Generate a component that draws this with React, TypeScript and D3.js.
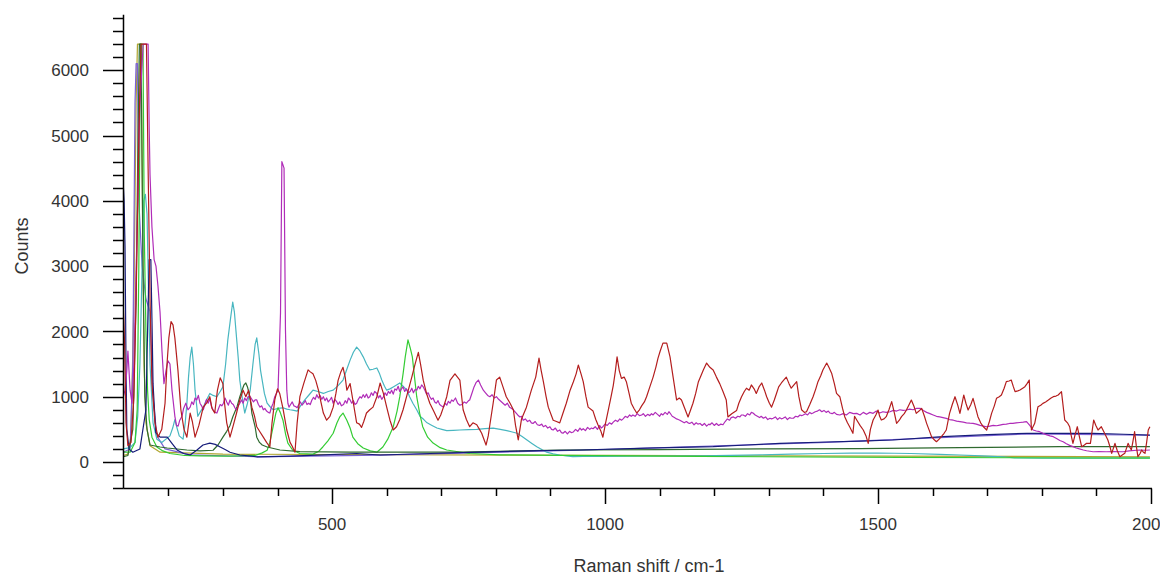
import React from "react";
import * as d3 from "d3";

type Pt = [number, number];

// Raman shift (cm-1), counts
const redSpectrum: Pt[] = [
  [117.5, 2400], [120, 1800], [122.5, 600], [126, 250], [131.7, 300], [137, 1000], [141, 2500], [146, 5000], [150, 6400], [160, 6400],
  [163, 4500], [166.5, 2500], [170, 1200], [175.6, 600], [181, 380], [188, 500], [194, 900], [197.6, 1500], [201, 1900], [205, 2150],
  [208.6, 2100], [212, 1900], [217.7, 1400], [223, 800], [228.7, 500], [234, 380], [240, 750], [244, 620], [249, 380], [256, 560],
  [264, 840], [270, 900], [276, 1000], [280, 820], [285, 750], [290, 1100], [295, 1290], [300, 1200], [303, 900], [307, 600],
  [313, 380], [319, 560], [325, 750], [331, 950], [337, 1100], [342, 1000], [347, 1100], [353, 840], [358, 700], [362, 540],
  [368, 460], [374, 380], [380, 300], [386, 230], [390, 600], [395, 950], [400, 1120], [404, 1050], [410, 820], [417, 490],
  [423, 300], [427, 240], [432, 150], [436, 600], [441, 1000], [448, 1200], [456, 1410], [460, 1380], [465, 1350], [470, 1250],
  [475, 1100], [480, 900], [484, 750], [490, 640], [496, 700], [502, 840], [507, 1050], [511, 1250], [516, 1380], [520, 1450],
  [524, 1300], [527, 1100], [533, 1200], [539, 900], [545, 600], [550, 580], [554, 530], [558, 620], [563, 750], [569, 800],
  [575, 840], [582, 1000], [588, 1210], [594, 1050], [600, 840], [606, 640], [612, 490], [618, 540], [624, 650], [630, 800],
  [638, 1050], [646, 1300], [652, 1500], [658, 1680], [662, 1500], [667, 1250], [673, 1050], [679, 900], [686, 780], [694, 640],
  [699, 720], [704, 840], [710, 1000], [716, 1250], [725, 1350], [734, 1255], [740, 800], [746, 650], [752, 540], [758, 600],
  [765, 570], [770, 500], [774, 440], [782, 260], [786, 400], [789, 570], [795, 900], [801, 1255], [807, 1300], [813, 1150],
  [819, 1000], [826, 900], [832, 800], [836, 560], [841, 340], [847, 660], [856, 840], [865, 1100], [873, 1300], [879, 1590],
  [883, 1400], [887, 1230], [892, 1000], [896, 840], [905, 640], [911, 620], [917, 600], [923, 750], [929, 900], [936, 1100],
  [942, 1230], [947, 1350], [951, 1485], [956, 1350], [960, 1230], [965, 1000], [969, 840], [978, 780], [983, 650], [987, 570],
  [992, 480], [996, 380], [1001, 600], [1006, 800], [1011, 1000], [1015, 1170], [1019, 1400], [1022, 1610], [1026, 1400], [1030, 1280],
  [1035, 1300], [1039, 1230], [1044, 1050], [1048, 900], [1053, 820], [1058, 750], [1063, 800], [1067, 860], [1072, 920], [1076, 1000],
  [1082, 1150], [1088, 1300], [1093, 1450], [1097, 1590], [1101, 1700], [1106, 1820], [1113, 1820], [1119, 1610], [1125, 1280], [1131, 950],
  [1136, 980], [1140, 950], [1146, 820], [1152, 690], [1156, 780], [1161, 900], [1166, 1050], [1171, 1230], [1176, 1330], [1180, 1410],
  [1186, 1515], [1192, 1450], [1198, 1410], [1204, 1300], [1210, 1200], [1216, 1080], [1222, 950], [1225, 690], [1232, 740], [1241, 790],
  [1245, 900], [1250, 1000], [1255, 1080], [1259, 1130], [1264, 1100], [1268, 1180], [1273, 1120], [1277, 1050], [1282, 1150], [1287, 1210],
  [1292, 1100], [1296, 1000], [1301, 900], [1305, 840], [1310, 950], [1314, 1050], [1318, 1150], [1323, 1210], [1328, 1260], [1332, 1300],
  [1337, 1200], [1341, 1130], [1346, 1180], [1351, 1230], [1355, 1000], [1360, 800], [1365, 760], [1369, 770], [1375, 880], [1381, 1000],
  [1386, 1120], [1390, 1230], [1395, 1320], [1399, 1410], [1406, 1515], [1410, 1450], [1415, 1360], [1420, 1200], [1424, 1050], [1430, 1000],
  [1435, 820], [1439, 694], [1444, 600], [1448, 540], [1454, 439], [1457, 700], [1461, 643], [1467, 560], [1473, 490], [1478, 400],
  [1482, 286], [1486, 500], [1491, 643], [1496, 720], [1500, 796], [1503, 700], [1506, 643], [1511, 660], [1515, 694], [1520, 800],
  [1525, 924], [1530, 750], [1534, 592], [1539, 640], [1543, 694], [1548, 740], [1552, 796], [1557, 880], [1561, 949], [1566, 850],
  [1570, 745], [1575, 780], [1580, 822], [1585, 700], [1589, 592], [1594, 480], [1598, 388], [1603, 340], [1607, 311], [1612, 350],
  [1616, 388], [1621, 440], [1625, 490], [1631, 745], [1636, 880], [1641, 1000], [1646, 870], [1650, 745], [1654, 900], [1657, 1026],
  [1661, 900], [1665, 796], [1670, 880], [1674, 975], [1679, 820], [1683, 694], [1688, 600], [1693, 540], [1699, 490], [1704, 620],
  [1708, 745], [1713, 860], [1717, 975], [1722, 1000], [1726, 1026], [1731, 1130], [1735, 1230], [1740, 1240], [1744, 1255], [1748, 1150],
  [1751, 1077], [1756, 1090], [1760, 1102], [1765, 1130], [1769, 1153], [1773, 1200], [1777, 1255], [1781, 490], [1787, 592], [1793, 847],
  [1798, 870], [1802, 898], [1807, 920], [1812, 949], [1817, 980], [1821, 1000], [1826, 1010], [1830, 1026], [1836, 1077], [1842, 643],
  [1847, 600], [1851, 540], [1854, 400], [1857, 286], [1861, 420], [1865, 540], [1869, 380], [1873, 235], [1878, 260], [1882, 286],
  [1889, 286], [1895, 643], [1899, 560], [1903, 490], [1909, 540], [1915, 439], [1921, 337], [1925, 230], [1928, 133], [1934, 286],
  [1938, 180], [1943, 82], [1948, 110], [1952, 133], [1958, 286], [1961, 230], [1964, 184], [1967, 320], [1970, 464], [1973, 250],
  [1976, 82], [1980, 130], [1983, 184], [1986, 150], [1989, 133], [1992, 300], [1995, 490], [1998, 540],
];

const magentaSpectrum: Pt[] = [
  [117.5, 1000], [120.7, 1100], [124, 1400], [126, 1700], [128, 1400], [130, 1100], [133.5, 900], [137, 1500], [142.6, 3500], [148, 5500],
  [154, 6400], [163, 6400], [165, 5100], [166.5, 4400], [170, 3600], [174, 3100], [177.4, 3000], [181, 2700], [184.8, 2300], [188.4, 1700],
  [192, 1200], [195.8, 1400], [199.4, 1550], [203, 1500], [206.7, 1100], [212, 700], [215, 560], [218, 550], [221, 640], [225, 700],
  [228, 820], [232, 900], [236, 800], [240, 840], [243, 920], [246, 880], [249, 980], [252, 950], [255, 1020], [258, 900],
  [261, 860], [264, 800], [267, 880], [270, 960], [273, 900], [276, 970], [279, 850], [282, 800], [286, 760], [289, 750],
  [292, 820], [295, 880], [298, 860], [301, 900], [304, 980], [307, 920], [310, 870], [313, 950], [316, 900], [319, 880],
  [322, 830], [325, 800], [328, 860], [331, 900], [334, 950], [337, 900], [340, 980], [343, 940], [346, 1000], [350, 1000],
  [353, 960], [356, 920], [359, 950], [362, 950], [365, 880], [368, 840], [371, 860], [374, 800], [377, 820], [380, 780],
  [383, 760], [386, 750], [389, 840], [392, 900], [395, 1000], [398, 1050], [401, 1100], [405.5, 2280], [408, 4600], [410, 4550],
  [412, 4500], [414.6, 2020], [417, 1100], [419, 900], [421, 840], [424, 880], [427, 920], [430, 860], [433, 850], [436, 830],
  [439, 880], [442, 920], [445, 870], [448, 900], [451, 940], [454, 880], [457, 900], [460, 880], [463, 950], [466, 990],
  [469, 960], [472, 1030], [475, 980], [478, 1020], [481, 960], [484, 1000], [487, 940], [490, 980], [493, 920], [496, 950],
  [499, 990], [502, 900], [505, 960], [508, 930], [511, 880], [514, 920], [517, 860], [521, 880], [524, 940], [527, 900],
  [530, 980], [533, 950], [536, 900], [539, 940], [542, 880], [545, 900], [548, 960], [551, 1000], [554, 980], [557, 1030],
  [560, 990], [563, 1040], [566, 980], [569, 1000], [572, 1060], [575, 1020], [578, 1080], [582, 1050], [585, 980], [588, 1020],
  [591, 960], [594, 1000], [597, 1060], [600, 1020], [603, 1080], [606, 1050], [609, 1100], [612, 1040], [615, 1120], [618, 1100],
  [621, 1160], [624, 1080], [627, 1120], [630, 1150], [633, 1080], [636, 1120], [640, 1060], [643, 1080], [646, 1130], [649, 1060],
  [652, 1110], [655, 1100], [658, 1160], [661, 1120], [664, 1180], [667, 1150], [670, 1100], [673, 1040], [676, 1060], [679, 1000],
  [682, 960], [685, 980], [688, 920], [691, 900], [694, 940], [697, 880], [700, 860], [704, 840], [707, 900], [710, 870],
  [713, 930], [716, 900], [719, 950], [722, 930], [726, 980], [730, 900], [734, 870], [738, 880], [742, 920], [746, 900],
  [750, 940], [752, 950], [756, 1050], [760, 1150], [764, 1220], [768, 1255], [772, 1180], [777, 1100], [781, 1060], [785, 1020],
  [789, 1000], [793, 1030], [797, 980], [801, 1000], [805, 960], [809, 930], [813, 900], [817, 870], [821, 900], [825, 840],
  [829, 820], [832, 800], [836, 760], [840, 720], [844, 690], [847, 700], [850, 640], [854, 660], [858, 620], [862, 640],
  [865, 600], [868, 590], [872, 620], [876, 570], [880, 560], [884, 580], [887, 540], [891, 560], [895, 520], [899, 540],
  [902, 500], [905, 490], [909, 520], [913, 470], [917, 490], [920, 450], [923, 440], [927, 470], [931, 430], [935, 470],
  [938, 450], [942, 460], [946, 500], [950, 470], [954, 520], [957, 490], [960, 510], [964, 480], [968, 530], [972, 500],
  [975, 520], [978, 510], [982, 540], [986, 500], [990, 560], [993, 520], [996, 540], [1000, 580], [1004, 560], [1008, 600],
  [1012, 580], [1015, 610], [1019, 640], [1023, 620], [1027, 660], [1030, 640], [1033, 660], [1037, 700], [1041, 680], [1045, 720],
  [1048, 700], [1051, 720], [1055, 700], [1059, 740], [1063, 710], [1067, 720], [1070, 740], [1074, 700], [1078, 730], [1082, 710],
  [1085, 740], [1088, 720], [1092, 760], [1096, 730], [1100, 700], [1103, 740], [1106, 720], [1110, 760], [1114, 730], [1117, 770],
  [1119, 750], [1123, 700], [1127, 680], [1131, 660], [1134, 650], [1137, 640], [1141, 620], [1145, 600], [1149, 620], [1152, 600],
  [1155, 590], [1159, 610], [1163, 570], [1167, 600], [1170, 580], [1174, 590], [1178, 560], [1182, 590], [1186, 550], [1190, 580],
  [1192, 570], [1196, 600], [1200, 560], [1204, 590], [1208, 560], [1212, 580], [1216, 570], [1220, 620], [1224, 660], [1228, 640],
  [1231, 680], [1235, 690], [1239, 670], [1243, 700], [1247, 690], [1250, 720], [1253, 720], [1257, 700], [1261, 740], [1265, 720],
  [1268, 760], [1271, 750], [1275, 720], [1279, 700], [1283, 680], [1286, 700], [1290, 670], [1294, 690], [1298, 650], [1302, 670],
  [1305, 660], [1308, 670], [1312, 690], [1316, 650], [1320, 680], [1323, 660], [1326, 670], [1330, 690], [1334, 650], [1338, 680],
  [1341, 670], [1345, 670], [1349, 700], [1353, 690], [1357, 720], [1360, 710], [1363, 720], [1367, 740], [1371, 720], [1375, 760],
  [1378, 740], [1381, 750], [1385, 770], [1389, 780], [1393, 800], [1397, 770], [1401, 790], [1405, 760], [1409, 780], [1412, 750],
  [1416, 740], [1420, 760], [1424, 730], [1430, 720], [1436, 740], [1442, 720], [1448, 760], [1455, 740], [1461, 745], [1467, 720],
  [1473, 760], [1479, 730], [1485, 760], [1491, 745], [1497, 780], [1503, 750], [1509, 770], [1515, 760], [1522, 770], [1528, 790],
  [1534, 780], [1540, 800], [1546, 790], [1552, 796], [1558, 810], [1564, 800], [1570, 820], [1577, 822], [1583, 790], [1589, 760],
  [1595, 740], [1601, 720], [1607, 700], [1613, 690], [1619, 680], [1625, 669], [1631, 650], [1638, 640], [1644, 625], [1650, 617],
  [1656, 610], [1662, 600], [1668, 595], [1674, 592], [1680, 580], [1687, 560], [1693, 550], [1699, 540], [1705, 550], [1711, 560],
  [1717, 555], [1723, 566], [1729, 575], [1735, 580], [1741, 590], [1747, 592], [1753, 600], [1760, 605], [1766, 610], [1772, 617],
  [1778, 560], [1784, 490], [1790, 475], [1796, 464], [1802, 440], [1808, 420], [1815, 400], [1821, 388], [1827, 360], [1833, 330],
  [1839, 311], [1845, 280], [1851, 255], [1857, 235], [1863, 215], [1869, 200], [1876, 184], [1882, 172], [1888, 165], [1894, 157],
  [1905, 160], [1918, 157], [1930, 160], [1949, 157], [1960, 170], [1979, 184], [1990, 180], [1998, 184],
];

const cyanSpectrum: Pt[] = [
  [117.5, 200], [130, 220], [139, 300], [144, 700], [148, 1500], [152, 3000], [155, 4000], [158, 4100], [161, 3800], [164, 2500],
  [166.5, 1500], [172, 600], [179, 350], [188, 300], [203, 400], [208, 520], [212, 650], [216, 520], [220, 400], [227, 350],
  [231, 600], [234, 900], [237, 1300], [240, 1600], [243, 1760], [246, 1500], [249, 1100], [254, 700], [258, 760], [264, 840],
  [270, 950], [276, 1050], [282, 1020], [289, 1000], [295, 1080], [300, 1150], [305, 1500], [309, 1870], [314, 2200], [318, 2450],
  [321, 2300], [324, 2000], [328, 1600], [331, 1250], [336, 950], [340, 750], [345, 900], [350, 1100], [355, 1500], [359, 1800],
  [362, 1900], [366, 1650], [369, 1400], [372, 1250], [376, 1050], [381, 900], [386, 850], [392, 800], [400, 820], [410, 830],
  [417, 810], [423, 800], [430, 790], [436, 780], [443, 870], [450, 950], [458, 1030], [465, 1100], [474, 1080], [484, 1050],
  [493, 1080], [502, 1100], [511, 1170], [520, 1255], [527, 1420], [533, 1560], [539, 1680], [545, 1760], [551, 1700], [557, 1610],
  [563, 1500], [569, 1410], [575, 1420], [582, 1440], [587, 1350], [591, 1255], [596, 1160], [600, 1100], [606, 1120], [612, 1150],
  [618, 1180], [624, 1210], [630, 1160], [637, 1100], [642, 1000], [648, 900], [655, 800], [661, 700], [668, 650], [674, 600],
  [683, 560], [692, 520], [701, 500], [710, 480], [722, 485], [734, 490], [750, 495], [765, 500], [780, 510], [795, 520],
  [808, 500], [820, 480], [830, 460], [839, 440], [848, 390], [857, 337], [866, 285], [875, 235], [884, 190], [893, 150],
  [905, 125], [917, 107], [929, 92], [941, 82], [960, 84], [990, 85], [1050, 88], [1110, 92], [1174, 95], [1230, 102],
  [1284, 110], [1340, 120], [1400, 130], [1450, 135], [1500, 138], [1560, 130], [1613, 118], [1650, 107], [1690, 95], [1729, 80],
  [1750, 62], [1800, 60], [1900, 60], [1998, 62],
];

const greenSpectrum: Pt[] = [
  [117.5, 150], [130, 150], [139, 300], [143, 800], [146, 3000], [149, 6400], [153.6, 6400], [156, 3500], [159, 2000], [162, 1100],
  [165, 650], [170, 380], [179, 230], [190, 170], [203, 130], [230, 100], [258, 95], [313, 90], [359, 100], [372, 140],
  [381, 180], [386, 300], [392, 540], [397, 750], [401, 830], [405, 760], [410, 640], [415, 420], [419, 290], [428, 180],
  [441, 130], [465, 120], [475, 160], [483, 230], [492, 320], [502, 440], [509, 600], [514, 690], [520, 750], [527, 640],
  [533, 520], [538, 380], [547, 280], [557, 215], [570, 170], [582, 150], [593, 230], [602, 350], [612, 540], [619, 780],
  [624, 1000], [630, 1350], [634, 1610], [639, 1870], [643, 1750], [647, 1610], [651, 1300], [655, 1000], [661, 720], [666, 540],
  [675, 380], [685, 290], [698, 220], [710, 184], [752, 130], [807, 110], [917, 100], [1174, 85], [1540, 70], [1998, 60],
];

const darkGreenSpectrum: Pt[] = [
  [117.5, 80], [126, 100], [135, 500], [141, 2500], [144.5, 5000], [147, 6400], [150, 6400], [153.6, 3000], [157, 1000], [161, 500],
  [166.5, 260], [185, 230], [198, 214], [234, 184], [258, 170], [282, 180], [291, 260], [300, 380], [307, 470], [313, 560],
  [318, 690], [326, 850], [331, 1000], [335, 1100], [338.6, 1180], [342, 1210], [345, 1150], [348, 1050], [351, 900], [353, 750],
  [356, 640], [359, 540], [362, 380], [367, 300], [372, 260], [381, 230], [404.5, 184], [441, 160], [533, 150], [624, 150],
  [734, 150], [917, 184], [1100, 190], [1284, 200], [1467, 205], [1650, 220], [1833, 235], [1998, 235],
];

const navySpectrum: Pt[] = [
  [117.5, 4250], [119, 4000], [120.7, 3300], [122.5, 1500], [124, 500], [128, 200], [135, 150], [148, 200], [159, 800], [162, 2000],
  [165, 3100], [168, 3100], [170, 2200], [172, 1200], [177, 450], [185, 380], [198, 380], [207, 280], [216, 184], [228, 130],
  [240, 107], [252.5, 184], [263.5, 260], [276, 290], [286, 270], [295, 230], [304, 190], [313, 150], [331, 107], [362, 80],
  [423, 90], [485, 110], [545, 130], [588, 107], [680, 130], [771, 150], [860, 170], [954, 184], [1077, 214], [1198, 235],
  [1260, 260], [1320, 286], [1406, 306], [1467, 320], [1527, 337], [1619, 388], [1700, 420], [1773, 439], [1894, 439], [1950, 425],
  [1998, 413],
];

const violetSpectrum: Pt[] = [
  [117.5, 150], [130, 200], [135, 1500], [139, 5500], [141, 6100], [143.5, 6100], [146, 4000], [152, 3000], [159, 2500], [166.5, 2300],
  [172, 1000], [179, 400], [194, 200], [240, 110], [362, 80], [588, 105], [954, 180], [1406, 300], [1773, 430], [1998, 410],
];

const oliveSpectrum: Pt[] = [
  [117.5, 100], [126, 120], [131.7, 400], [137, 2500], [141, 5500], [143.5, 6400], [150, 6400], [152.7, 4000], [155.5, 1500], [159, 600],
  [166.5, 250], [185, 150], [300, 120], [1000, 100], [1998, 80],
];

const xMajorTicks = [500, 1000, 1500, 2000];
const yMajorTicks = [0, 1000, 2000, 3000, 4000, 5000, 6000];

const series = [
  { name: "olive", color: "#b0a630", data: oliveSpectrum },
  { name: "violet", color: "#7a62d4", data: violetSpectrum },
  { name: "cyan", color: "#48b6c0", data: cyanSpectrum },
  { name: "green", color: "#34cc34", data: greenSpectrum },
  { name: "darkgreen", color: "#2f6a2f", data: darkGreenSpectrum },
  { name: "navy", color: "#161c7a", data: navySpectrum },
  { name: "magenta", color: "#b02cb8", data: magentaSpectrum },
  { name: "red", color: "#b41e1e", data: redSpectrum },
];

const FONT = "'Liberation Sans', Arial, sans-serif";

export default function App() {
  const x = d3.scaleLinear().domain([117, 2000]).range([123, 1151]);
  const y = d3.scaleLinear().domain([0, 6000]).range([462, 70.2]);

  const line = d3
    .line<Pt>()
    .x((d) => x(d[0]))
    .y((d) => y(d[1]));

  const xMinor = d3.range(200, 2000, 100).filter((t) => !xMajorTicks.includes(t));
  const yMinor = d3.range(-400, 6801, 200).filter((t) => t % 1000 !== 0 || t < 0);

  const axisY = Math.round(y(-400)) + 0.5;
  const axisX = 123.5;

  return (
    <svg
      width={1160}
      height={576}
      style={{ position: "absolute", left: 0, top: 0, background: "#fff" }}
    >
      <defs>
        <clipPath id="plot">
          <rect x={123} y={0} width={1030} height={axisY} />
        </clipPath>
      </defs>

      <g clipPath="url(#plot)" fill="none" strokeWidth={1.2} strokeLinejoin="round">
        {series.map((s) => (
          <path key={s.name} d={line(s.data) ?? ""} stroke={s.color} />
        ))}
      </g>

      {/* y axis */}
      <g stroke="#000" strokeWidth={1.5}>
        <line x1={axisX} x2={axisX} y1={y(6850)} y2={axisY} />
        {yMajorTicks.map((t) => (
          <line key={t} x1={103} x2={axisX} y1={Math.round(y(t)) + 0.5} y2={Math.round(y(t)) + 0.5} />
        ))}
        {yMinor.map((t) => (
          <line key={t} x1={113} x2={axisX} y1={Math.round(y(t)) + 0.5} y2={Math.round(y(t)) + 0.5} />
        ))}
      </g>
      <g fontFamily={FONT} fontSize={17} fill="#333" textAnchor="end">
        {yMajorTicks.map((t) => (
          <text key={t} x={89} y={y(t)} dy="0.36em">
            {t}
          </text>
        ))}
      </g>

      {/* x axis */}
      <g stroke="#000" strokeWidth={1.5}>
        <line x1={axisX} x2={1152} y1={axisY} y2={axisY} />
        {xMajorTicks.map((t) => (
          <line key={t} x1={Math.round(x(t)) + 0.5} x2={Math.round(x(t)) + 0.5} y1={axisY} y2={504} />
        ))}
        {xMinor.map((t) => (
          <line key={t} x1={Math.round(x(t)) + 0.5} x2={Math.round(x(t)) + 0.5} y1={axisY} y2={496} />
        ))}
      </g>
      <g fontFamily={FONT} fontSize={17} fill="#333" textAnchor="middle">
        {xMajorTicks.map((t) => (
          <text key={t} x={x(t)} y={530}>
            {t}
          </text>
        ))}
      </g>

      <text
        x={649}
        y={572}
        fontFamily={FONT}
        fontSize={18}
        fill="#333"
        textAnchor="middle"
      >
        Raman shift / cm-1
      </text>
      <text
        transform="translate(28,246) rotate(-90)"
        fontFamily={FONT}
        fontSize={18}
        fill="#333"
        textAnchor="middle"
      >
        Counts
      </text>
    </svg>
  );
}
